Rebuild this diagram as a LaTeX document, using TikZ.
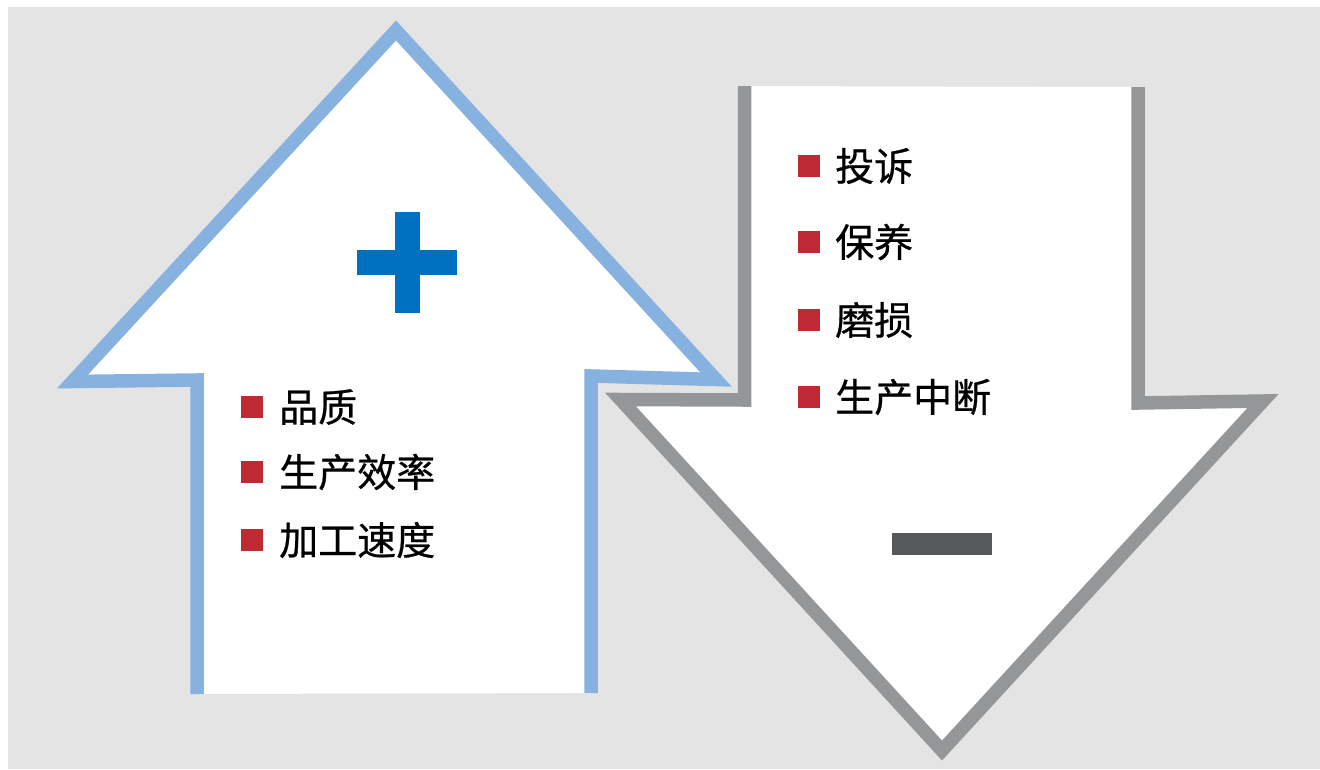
\documentclass[tikz,border=0pt]{standalone}
\usepackage{fontspec}
\newfontfamily\cjk[FakeBold=0.6]{Noto Sans CJK SC}
\definecolor{bggray}{HTML}{E3E4E3}
\definecolor{upblue}{HTML}{87B1DF}
\definecolor{downgray}{HTML}{959697}
\definecolor{plusblue}{HTML}{0070C0}
\definecolor{minusgray}{HTML}{58595B}
\definecolor{bulletred}{HTML}{BE2A33}
\tikzset{
  outline/.style={line width=13.5pt, miter limit=10, line join=miter, line cap=butt},
  bullet/.style={fill=bulletred, draw=none, minimum size=22pt, inner sep=0pt, outer sep=0pt},
  item/.style={anchor=west, inner sep=0pt, font=\cjk\fontsize{39}{46}\selectfont, text=black}
}
\begin{document}
\begin{tikzpicture}[x=1pt,y=-1pt]
\useasboundingbox (0,0) rectangle (1320,769);
\fill[bggray] (8,7) rectangle (1320,769);
% up arrow
\coordinate (ubl) at (197,694);
\coordinate (uls) at (197,380);
\coordinate (ulc) at (72.5,381.5);
\coordinate (utip) at (396,30.5);
\coordinate (urc) at (716,379.5);
\coordinate (urs) at (591,376);
\coordinate (ubr) at (591,693);
\fill[white] (ubl) -- (uls) -- (ulc) -- (utip) -- (urc) -- (urs) -- (ubr) -- cycle;
\draw[outline, upblue] (ubl) -- (uls) -- (ulc) -- (utip) -- (urc) -- (urs) -- (ubr);
% down arrow
\coordinate (dtl) at (744.5,86);
\coordinate (dls) at (744.5,400);
\coordinate (dlc) at (620.5,399.5);
\coordinate (dtip) at (942,750.5);
\coordinate (drc) at (1263,401);
\coordinate (drs) at (1138,403);
\coordinate (dtr) at (1138,87);
\fill[white] (dtl) -- (dls) -- (dlc) -- (dtip) -- (drc) -- (drs) -- (dtr) -- cycle;
\draw[outline, downgray] (dtl) -- (dls) -- (dlc) -- (dtip) -- (drc) -- (drs) -- (dtr);
% plus and minus
\fill[plusblue] (357,249.5) rectangle (457,275);
\fill[plusblue] (394.5,212) rectangle (419.5,313);
\fill[minusgray] (892,533) rectangle (992,555);
% left items
\node[bullet] (b1) at (252,407) {};
\node[item] (t1) at (279,407) {品质};
\node[bullet] (b2) at (252,472) {};
\node[item] (t2) at (279,472) {生产效率};
\node[bullet] (b3) at (252,540) {};
\node[item] (t3) at (279,540) {加工速度};
% right items
\node[bullet] (c1) at (808.5,166) {};
\node[item] (s1) at (835,166) {投诉};
\node[bullet] (c2) at (808.5,242) {};
\node[item] (s2) at (835,242) {保养};
\node[bullet] (c3) at (808.5,320) {};
\node[item] (s3) at (835,320) {磨损};
\node[bullet] (c4) at (808.5,397) {};
\node[item] (s4) at (835,397) {生产中断};
\end{tikzpicture}
\end{document}
